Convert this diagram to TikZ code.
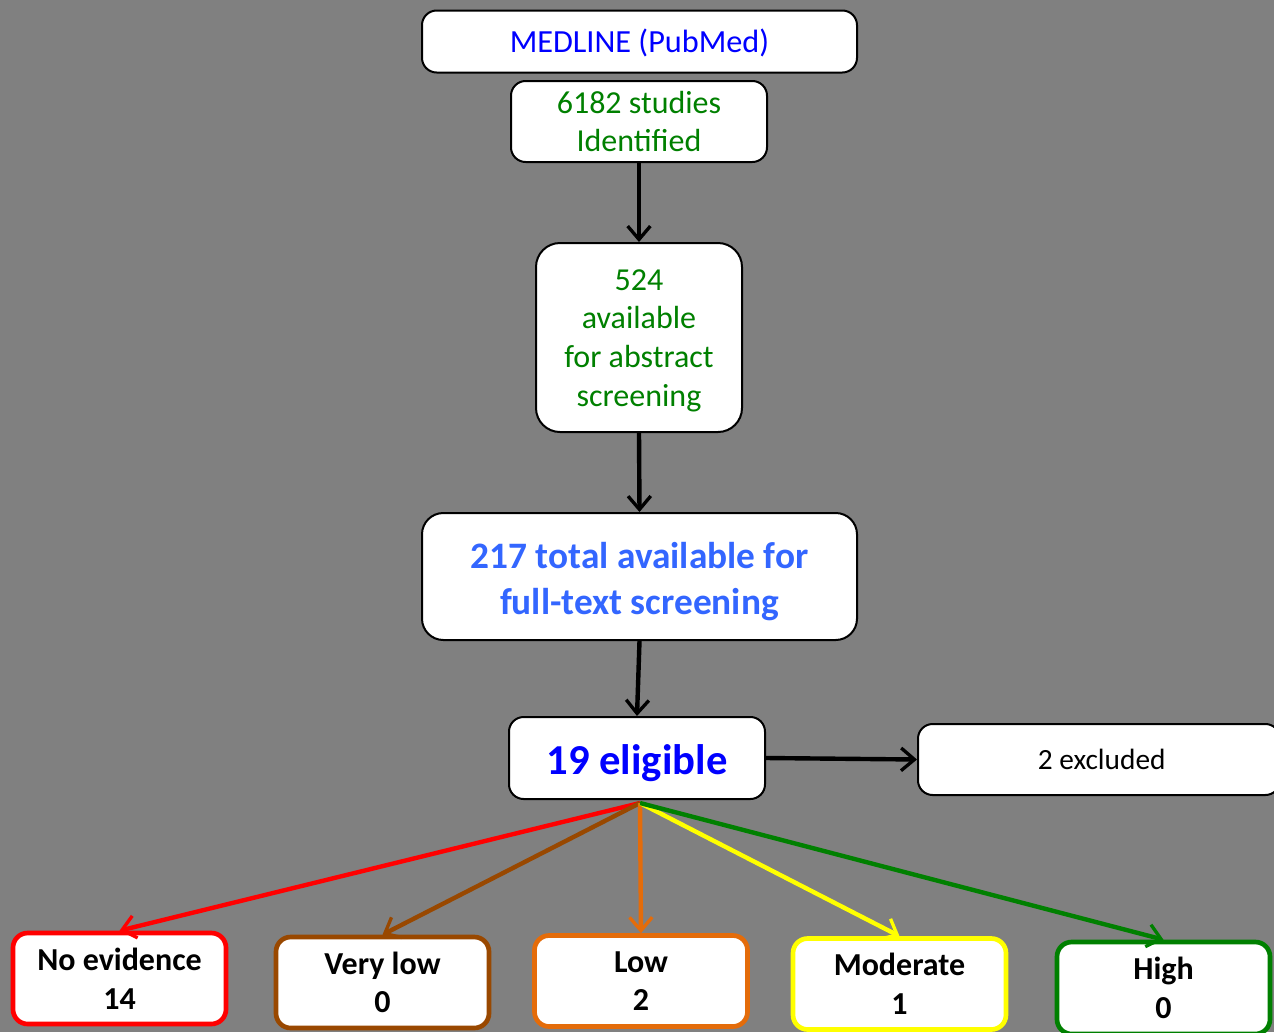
\documentclass[tikz,border=0pt]{standalone}
\usepackage{fontspec}
\setmainfont{Carlito}
\usetikzlibrary{arrows.meta}
\definecolor{bg}{RGB}{128,128,128}
\definecolor{mblue}{RGB}{0,0,255}
\definecolor{lblue}{RGB}{51,102,255}
\definecolor{mgreen}{RGB}{0,128,0}
\definecolor{cred}{RGB}{255,0,0}
\definecolor{cbrown}{RGB}{153,72,0}
\definecolor{corange}{RGB}{228,108,10}
\definecolor{cyellow}{RGB}{255,255,0}
\definecolor{cgreen}{RGB}{0,128,0}
\newcommand{\tallstrut}[1]{\rule{0pt}{#1}}
\tikzset{
  box/.style={draw=black, line width=1.5pt, fill=white, rounded corners=11pt, align=center, inner sep=0pt},
  gbox/.style={draw=#1, line width=3.5pt, fill=white, rounded corners=11pt, align=center, inner sep=0pt,
    minimum width=159.75pt, minimum height=68.25pt, font=\bfseries\fontsize{24}{29}\selectfont},
  conn/.style={line width=3.3pt, -{Straight Barb[length=10pt,width=17pt,line width=2.5pt]}},
  gconn/.style={conn, draw=#1}
}
\begin{document}
\begin{tikzpicture}[x=0.75pt,y=-0.75pt]
\fill[bg] (0,0) rectangle (1274,1032);
\useasboundingbox (0,0) rectangle (1274,1032);
\node[box, minimum width=326.25pt, minimum height=46.5pt, text=mblue, font=\fontsize{24.2}{30}\selectfont] (med) at (639.5,41.5) {\tallstrut{19.5pt}MEDLINE (PubMed)};
\node[box, minimum width=192pt, minimum height=60.75pt, text=mgreen, font=\fontsize{24}{29}\selectfont] (id) at (639,121.5) {6182 studies\\Identified};
\node[box, rounded corners=18pt, minimum width=154.5pt, minimum height=141.75pt, text=mgreen, font=\fontsize{24}{29}\selectfont] (abs) at (639,337.5) {\tallstrut{20pt}524\\available\\for abstract\\screening};
\node[box, rounded corners=16pt, minimum width=326.25pt, minimum height=95.25pt, text=lblue, font=\bfseries\fontsize{28}{34.5}\selectfont] (full) at (639.5,576.5) {\tallstrut{27pt}217 total available for\\full-text screening};
\node[box, minimum width=192pt, minimum height=61.5pt, text=mblue, font=\bfseries\fontsize{32}{40}\selectfont] (elig) at (637,758) {\tallstrut{30pt}19 eligible};
\node[box, minimum width=271.5pt, minimum height=53.25pt, text=black, font=\fontsize{22}{24}\selectfont] (excl) at (1099,759.5) {\hspace*{4pt}2 excluded};
\node[gbox=cred] (ne) at (119.5,978.5) {No evidence\\14};
\node[gbox=cbrown] (vl) at (382.5,982.5) {Very low\\0};
\node[gbox=corange] (lo) at (641,981) {Low\\2};
\node[gbox=cyellow] (mo) at (899.5,984) {Moderate\\1};
\node[gbox=cgreen, minimum height=69pt] (hi) at (1163.5,988) {High\\0};
\coordinate (src) at (640,803);
\draw[conn] (id.south) -- (abs.north);
\draw[conn] (abs.south) -- (full.north);
\draw[conn] (full.south) -- (elig.north);
\draw[conn] (elig.east) -- (excl.west);
\draw[gconn=cred] (src) -- (ne.north);
\draw[gconn=cbrown] (src) -- (vl.north);
\draw[gconn=corange] (src) -- (lo.north);
\draw[gconn=cyellow] (src) -- (mo.north);
\draw[gconn=cgreen] (src) -- (hi.north);
\end{tikzpicture}
\end{document}
